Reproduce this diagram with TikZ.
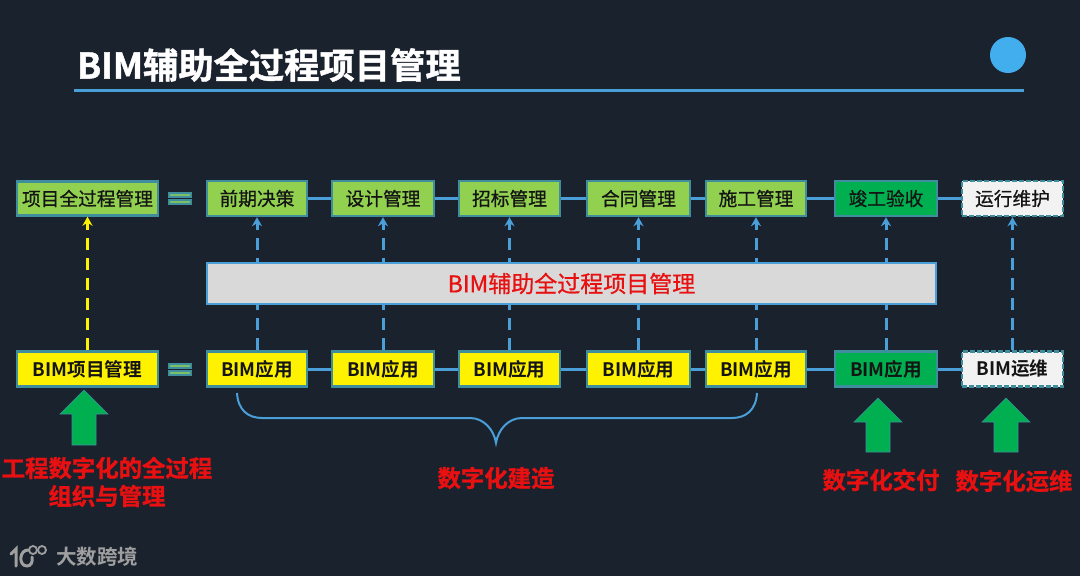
\documentclass[tikz,border=0pt]{standalone}
\usepackage{fontspec}
\setmainfont{Noto Sans CJK SC}[BoldFont={Noto Sans CJK SC Bold}]
\newfontfamily\heavycjk{Noto Sans CJK SC Bold}[FakeBold=1.2]
\newfontfamily\midcjk{Noto Sans CJK SC}[FakeBold=0.7]
\usetikzlibrary{arrows.meta}
\definecolor{bgc}{HTML}{1A222E}
\definecolor{linec}{HTML}{4A9FD8}
\definecolor{edgec}{HTML}{3E8E9E}
\definecolor{lgreen}{HTML}{92D050}
\definecolor{dgreen}{HTML}{00B050}
\definecolor{offw}{HTML}{F2F2F2}
\definecolor{midg}{HTML}{D9D9D9}
\definecolor{redt}{HTML}{E81010}
\definecolor{ink}{HTML}{141414}
\definecolor{dotc}{HTML}{42AEEE}
\tikzset{
  box/.style={draw=edgec,line width=2.4pt,inner sep=0pt,font=\midcjk\fontsize{18.7}{20}\selectfont,text=ink},
  gbox/.style={box,fill=lgreen},
  ybox/.style={box,fill=yellow,font=\bfseries\fontsize{18.6}{20}\selectfont},
  dbox/.style={box,fill=dgreen},
  wbox/.style={box,fill=offw,dash pattern=on 5pt off 2pt},
  hlink/.style={draw=linec,line width=3pt},
  vlink/.style={draw=linec,line width=3pt,dash pattern=on 12pt off 8pt,-{Stealth[length=9pt,width=10pt]}},
  ylink/.style={draw=yellow,line width=3pt,dash pattern=on 12pt off 8pt,-{Stealth[length=9pt,width=10pt]}},
  redlabel/.style={text=redt,font=\heavycjk\fontsize{23.4}{28}\selectfont,align=center,inner sep=0pt},
  eqbar/.style={draw=edgec,fill=lgreen!75!edgec,line width=1.4pt},
  uparrow/.style={fill=dgreen,draw=edgec,line width=.6pt}
}
\newcommand{\upblock}[3]{%
  \filldraw[uparrow] (#1,#2) -- (#1+24,#2+24) -- (#1+12,#2+24) -- (#1+12,#3) -- (#1-12,#3) -- (#1-12,#2+24) -- (#1-24,#2+24) -- cycle;}
\begin{document}
\begin{tikzpicture}[x=1pt,y=-1pt]
\useasboundingbox (0,0) rectangle (1080,576);
\fill[bgc] (0,0) rectangle (1080,576);

% title
\node[anchor=west,inner sep=0pt,text=white,font=\heavycjk\fontsize{35.3}{40}\selectfont] (title) at (77,65) {BIM辅助全过程项目管理};
\coordinate (ruleL) at (74,90);
\coordinate (ruleR) at (1024,90);
\draw[linec,line width=3pt] (ruleL) -- (ruleR);
\node[circle,fill=dotc,minimum size=36pt,inner sep=0pt] (dot) at (1008,55) {};

% top row
\node[gbox,minimum width=141pt,minimum height=34pt] (t0) at (87.5,198.5) {项目全过程管理};
\node[gbox,minimum width=100pt,minimum height=35pt] (t1) at (257,198.5) {前期决策};
\node[gbox,minimum width=102pt,minimum height=35pt] (t2) at (383,198.5) {设计管理};
\node[gbox,minimum width=101pt,minimum height=35pt] (t3) at (509.5,198.5) {招标管理};
\node[gbox,minimum width=103pt,minimum height=35pt] (t4) at (638.5,198.5) {合同管理};
\node[gbox,minimum width=100pt,minimum height=35pt] (t5) at (756,198.5) {施工管理};
\node[dbox,minimum width=102pt,minimum height=35pt] (t6) at (886,198.5) {竣工验收};
\node[wbox,minimum width=101pt,minimum height=35pt] (t7) at (1012.5,198.5) {运行维护};

% bottom row
\node[ybox,minimum width=141pt,minimum height=35pt] (b0) at (87.5,369) {BIM项目管理};
\node[ybox,minimum width=100pt,minimum height=35pt] (b1) at (257,369) {BIM应用};
\node[ybox,minimum width=102pt,minimum height=35pt] (b2) at (383,369) {BIM应用};
\node[ybox,minimum width=101pt,minimum height=35pt] (b3) at (509.5,369) {BIM应用};
\node[ybox,minimum width=103pt,minimum height=35pt] (b4) at (638.5,369) {BIM应用};
\node[ybox,minimum width=100pt,minimum height=35pt] (b5) at (756,369) {BIM应用};
\node[dbox,minimum width=102pt,minimum height=35pt,font=\bfseries\fontsize{18.6}{20}\selectfont] (b6) at (886,369) {BIM应用};
\node[wbox,minimum width=101pt,minimum height=35pt,font=\bfseries\fontsize{18.6}{20}\selectfont] (b7) at (1012.5,369) {BIM运维};

% horizontal links
\foreach \a/\b in {t1/t2,t2/t3,t3/t4,t4/t5,t5/t6,t6/t7,b1/b2,b2/b3,b3/b4,b4/b5,b5/b6,b6/b7}
  \draw[hlink] (\a) -- (\b);

% vertical links
\draw[ylink] (b0) -- (t0);
\foreach \i in {1,...,7}
  \draw[vlink] (b\i) -- (t\i);

% central bar
\node[draw=linec,fill=midg,line width=2.4pt,minimum width=729pt,minimum height=41pt,inner sep=0pt,text=redt,font=\midcjk\fontsize{23}{26}\selectfont] (mid) at (571.5,283.5) {BIM辅助全过程项目管理};

% equals signs
\filldraw[eqbar] (169,193) rectangle (191,197);
\filldraw[eqbar] (169,200) rectangle (191,204);
\filldraw[eqbar] (169,364) rectangle (191,368);
\filldraw[eqbar] (169,371) rectangle (191,375);

% brace
\draw[linec,line width=2pt] (237,393) .. controls (238,410) and (248,418) .. (262,418)
  -- (470,418) .. controls (484,418) and (494,430) .. (496,443)
  .. controls (498,430) and (508,418) .. (522,418)
  -- (732,418) .. controls (746,418) and (756,410) .. (757,393);

% green block arrows
\upblock{84}{390}{445}
\upblock{878}{398}{452}
\upblock{1006}{398}{452}

% red labels
\node[redlabel] (l1) at (107,468) {工程数字化的全过程};
\node[redlabel] (l2) at (107,496) {组织与管理};
\node[redlabel] (l3) at (496,478) {数字化建造};
\node[redlabel] (l4) at (881,480) {数字化交付};
\node[redlabel] (l5) at (1014,481) {数字化运维};

% watermark
\begin{scope}[draw=gray!75,line width=3pt,line cap=round]
\draw (11,554) -- (16,549) -- (16,566);
\draw (29,550) .. controls (19,549) and (18,566) .. (27,566) .. controls (31,566) and (33,562) .. (32,557);
\draw[line width=1.8pt] (33,550) circle (4pt);
\draw[line width=1.8pt] (42,550) circle (4pt);
\end{scope}
\node[anchor=west,inner sep=0pt,text=gray!75,font=\bfseries\fontsize{20.5}{24}\selectfont] (wm) at (56,557) {大数跨境};
\end{tikzpicture}
\end{document}
